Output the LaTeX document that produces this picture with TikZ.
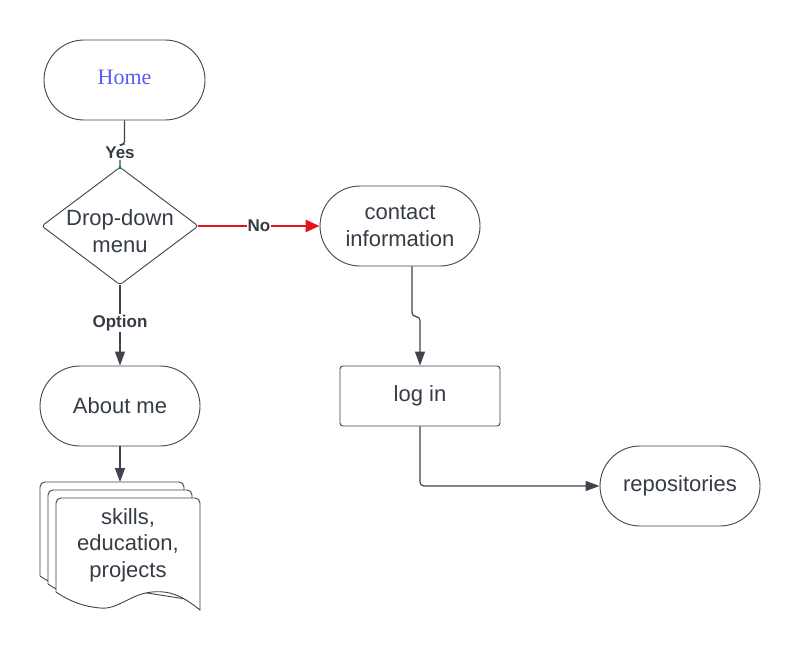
\documentclass[tikz,border=0pt]{standalone}
\usepackage{fontspec}
\setmainfont{Liberation Sans}
\newfontfamily\homefont{Liberation Serif}
\usetikzlibrary{arrows.meta,calc}
\definecolor{txt}{HTML}{363C46}
\definecolor{edge}{HTML}{3F444C}
\definecolor{homeblue}{HTML}{5B5BF5}
\definecolor{nored}{HTML}{E3141B}
\tikzset{
  x=1pt,y=-1pt,
  stadium/.style={draw=edge, line width=0.9pt, rectangle, rounded corners=40pt,
    minimum width=160pt, minimum height=80pt, inner sep=0pt, align=center,
    text=txt, font=\fontsize{22}{26.5}\selectfont},
  boxnode/.style={draw=edge, line width=0.9pt, rectangle, rounded corners=3pt,
    minimum width=160pt, minimum height=60pt, inner sep=0pt, align=center,
    text=txt, font=\fontsize{22}{26.5}\selectfont},
  conn/.style={draw=edge, line width=1.2pt, -{Triangle[length=14pt,width=10pt]}},
  plainconn/.style={draw=edge, line width=1.2pt},
  redconn/.style={draw=nored, line width=2.6pt, -{Triangle[length=14pt,width=12pt]}},
  lbl/.style={fill=white, inner sep=1pt, text=txt, font=\bfseries\fontsize{17}{18}\selectfont},
  docshape/.style={draw=edge, line width=0.9pt, fill=white},
  plaintext/.style={align=center, text=txt, font=\fontsize{22}{26.5}\selectfont},
}
\begin{document}
\begin{tikzpicture}
\useasboundingbox[fill=white] (0,0) rectangle (800,650);

% nodes
\node[stadium, minimum width=161pt] (home) at (124.5,80) {};
\node[text=homeblue, font=\homefont\fontsize{22}{26}\selectfont] (hometext) at (124.5,77) {Home};
\node[minimum width=156pt, minimum height=117pt, inner sep=0pt] (dd) at (120,226) {};
\draw[draw=edge, line width=0.9pt, rounded corners=3pt] (dd.north) -- (dd.east) -- (dd.south) -- (dd.west) -- cycle;
\node[plaintext] (ddtext) at (120,231) {Drop-down\\menu};
\node[stadium] (contact) at (400,226) {contact\\information};
\node[boxnode] (login) at (420,396) {log in};
\node[stadium] (repo) at (680,486) {repositories};
\node[stadium] (about) at (120,406) {About me};

% multi-document
\draw[docshape, rounded corners=5pt] (40,576) -- (40,482) -- (184,482) -- (184,592);
\draw[docshape] (40,576) .. controls (62,592) and (95,590) .. (120,582) -- (184,592);
\draw[docshape, rounded corners=5pt] (48,584) -- (48,490) -- (192,490) -- (192,600);
\draw[docshape] (48,584) .. controls (70,600) and (103,598) .. (128,590) -- (192,600);
\draw[docshape] (56,592) [rounded corners=5pt] -- (56,498) -- (200,498) [sharp corners] -- (200,610)
  .. controls (185,598) and (172,590) .. (152,592)
  .. controls (130,594) and (118,610) .. (100,608)
  .. controls (80,606) and (68,600) .. (56,592) -- cycle;
\node[plaintext] (docs) at (128,545) {skills,\\education,\\projects};
\coordinate (doctop) at (120,482);

% connectors
\draw[plainconn, rounded corners=3pt] (home.south) -- ++(0,24) -| (dd.north);
\node[lbl] (yes) at (120,153) {Yes};
\fill[green!60!black] (dd.north) circle (1.5pt);

\draw[redconn] (dd.east) -- (contact.west) node[lbl, midway] (no) {No};
\draw[conn] (dd.south) -- (about.north) node[lbl, pos=0.47] (opt) {Option};
\draw[conn] (about.south) -- (doctop);
\draw[conn, rounded corners=4pt] ([xshift=12pt]contact.south) |- ($(login.north)+(0,-49)$) -- (login.north);
\draw[conn, rounded corners=4pt] (login.south) |- (repo.west);
\end{tikzpicture}
\end{document}
